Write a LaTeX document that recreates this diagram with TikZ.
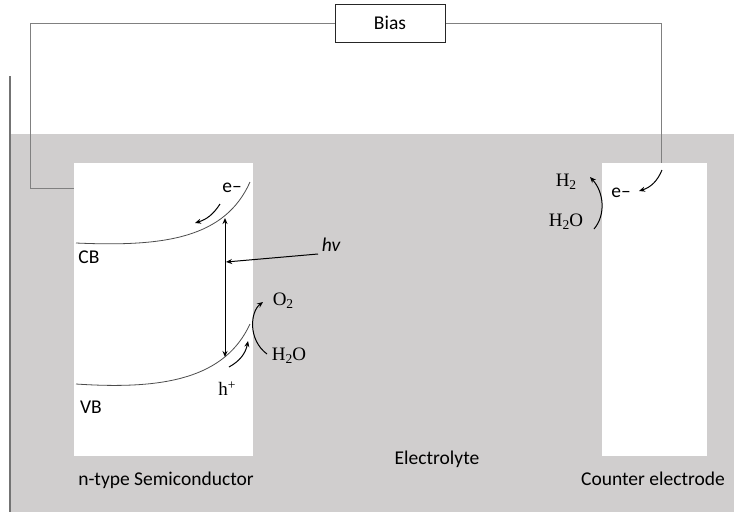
\documentclass[tikz,border=0pt]{standalone}
\usepackage{fontspec}
\setmainfont{Carlito}
\newfontfamily\chemfont{Liberation Serif}
\usetikzlibrary{arrows.meta}
\definecolor{elec}{RGB}{208,206,206}
\definecolor{wire}{RGB}{128,128,128}
\tikzset{
  lbl/.style={inner sep=0pt, font=\fontsize{19.5}{23}\selectfont},
  chem/.style={inner sep=0pt, font=\fontsize{19}{22}\selectfont\chemfont},
  electrode/.style={draw=none, fill=white, inner sep=0pt},
  wireline/.style={draw=wire, line width=0.9pt},
  band/.style={draw=black!70, line width=0.8pt},
  arr/.style={draw=black, line width=1pt, -{Stealth[length=6pt,width=5pt]}},
}
\newcommand{\sub}[1]{\raisebox{-0.35ex}{\fontsize{13.5}{14}\selectfont #1}}
\newcommand{\supr}[1]{\raisebox{0.7ex}{\fontsize{13.5}{14}\selectfont #1}}
\begin{document}
\begin{tikzpicture}[x=1pt,y=-1pt]
\useasboundingbox (0,0) rectangle (734,512);
% electrolyte
\fill[elec] (11,134) rectangle (734,512);
\draw[draw=wire!90!black, line width=2pt] (10,76) -- (10,512);
% electrodes
\node[electrode, minimum width=179pt, minimum height=293pt] (semi) at (163.5,309.5) {};
\node[electrode, minimum width=105pt, minimum height=293pt] (ce) at (654.5,309.5) {};
% bias
\node[draw=black!85, line width=1pt, fill=white, minimum width=110pt, minimum height=38pt, lbl] (bias) at (390,23) {Bias};
\coordinate (wl) at (30,188);
\coordinate (wr) at (661,163);
\draw[wireline] (bias.west) -| (wl) -- (wl -| semi.west);
\draw[wireline] (bias.east) -| (wr);
% bands
\draw[band] (76,243) .. controls (165,247) and (225,238) .. (250,182);
\draw[band] (76,384) .. controls (165,390) and (225,378) .. (250,324);
\node[lbl] (cb) at (89,257) {CB};
\node[lbl] (vb) at (91,407) {VB};
% excitation
\coordinate (ex1) at (225,218);
\coordinate (ex2) at (225,357);
\draw[draw=black, line width=1pt, {Stealth[length=6pt,width=5pt]}-{Stealth[length=6pt,width=5pt]}] (ex1) -- (ex2);
\node[lbl, font=\fontsize{19.5}{23}\selectfont\itshape] (hv) at (331,245) {hv};
\coordinate (hvs) at (318,254);
\coordinate (hve) at (226,262);
\draw[arr] (hvs) -- (hve);
% electron at photoanode
\node[lbl] (e1) at (232,188) {e\textendash};
\coordinate (e1s) at (220,204);
\coordinate (e1e) at (195,223);
\draw[arr] (e1s) to[bend left=20] (e1e);
% hole
\node[chem] (hp) at (227,389) {h\supr{+}};
\coordinate (hs) at (229,367);
\coordinate (he) at (248,341);
\draw[arr] (hs) to[bend right=25] (he);
% water oxidation
\node[chem] (o2) at (283,301) {O\sub{2}};
\node[chem] (h2o1) at (289,356) {H\sub{2}O};
\coordinate (os) at (267,354);
\coordinate (oe) at (263,302);
\draw[arr] (os) .. controls (248,340) and (250,312) .. (oe);
% counter electrode
\node[chem] (h2) at (566,182) {H\sub{2}};
\node[chem] (h2o2) at (566,222) {H\sub{2}O};
\coordinate (cs) at (594,229);
\coordinate (ce2) at (590,177);
\draw[arr] (cs) .. controls (606,215) and (604,192) .. (ce2);
\node[lbl] (e2) at (621,193) {e\textendash};
\coordinate (e2s) at (662,170);
\coordinate (e2e) at (639,191);
\draw[arr] (e2s) to[bend left=25] (e2e);
% labels
\node[lbl] (semilbl) at (166,480) {n-type Semiconductor};
\node[lbl] (ellbl) at (437,459) {Electrolyte};
\node[lbl] (celbl) at (653,479) {Counter electrode};
\end{tikzpicture}
\end{document}
